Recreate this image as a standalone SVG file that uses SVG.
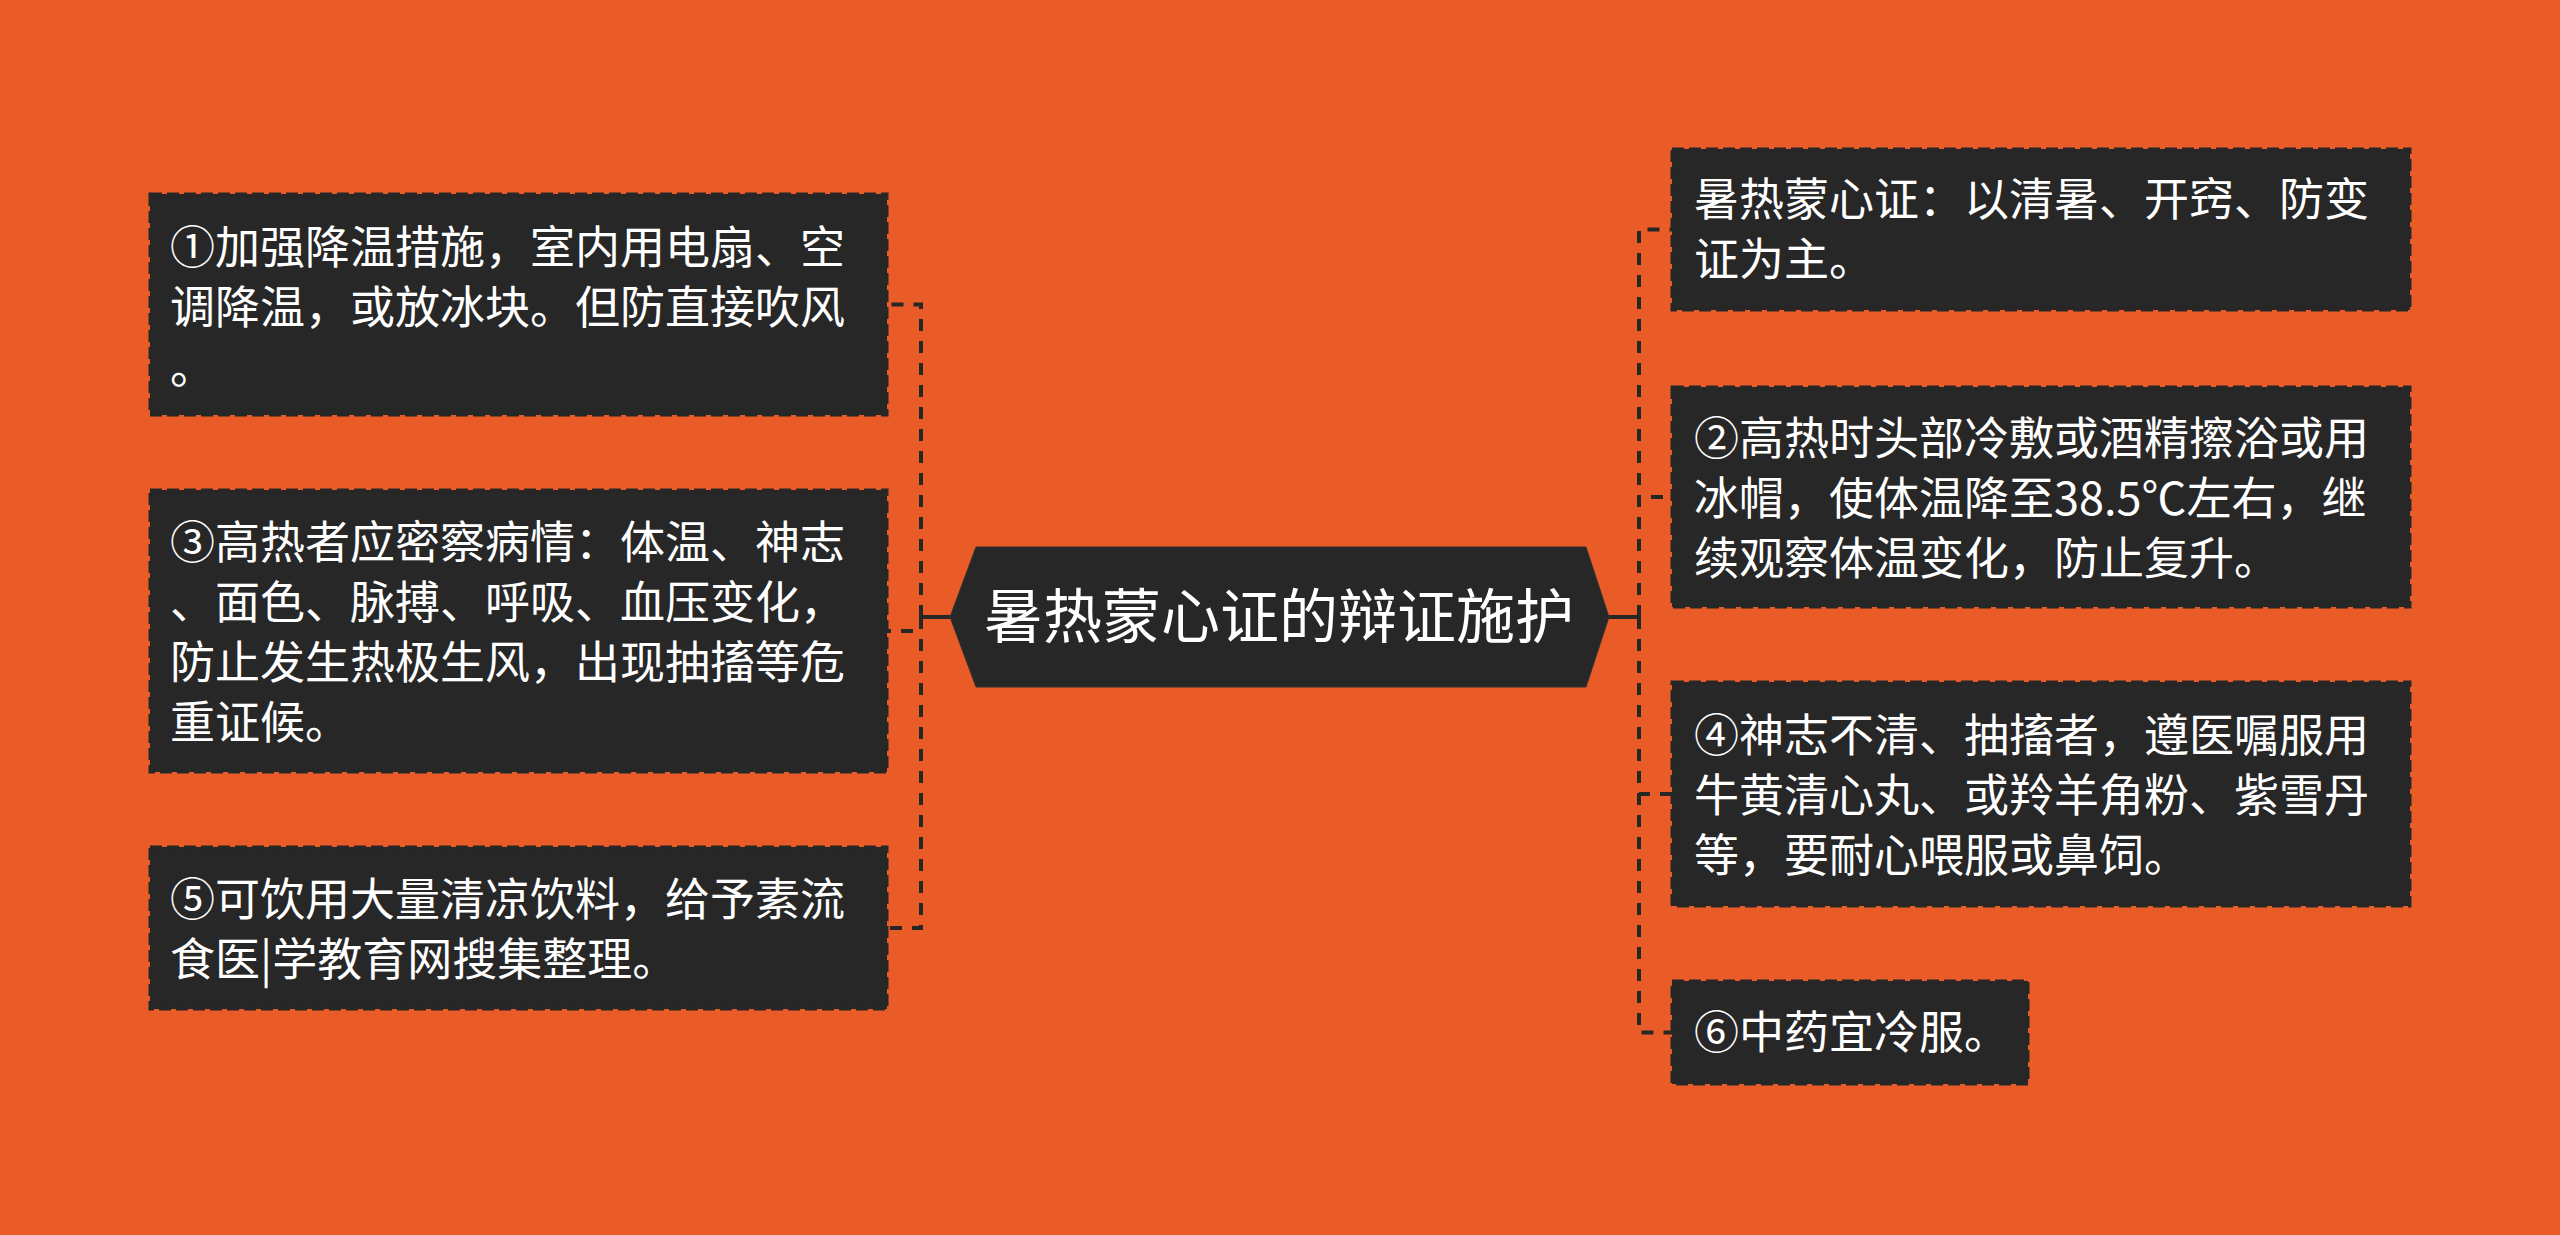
<svg xmlns="http://www.w3.org/2000/svg" width="2560" height="1235" viewBox="0 0 2560 1235">
<style>
.bg{fill:#E95C28}
.box{fill:#272727;stroke:#272727;stroke-width:3;stroke-dasharray:12 5}
.hex{fill:#272727;stroke:#333;stroke-width:1}
.t{font-family:"Noto Sans CJK SC","Noto Sans",sans-serif;font-size:45px;fill:#FFFFFF}
.ct{font-family:"Noto Sans CJK SC","Noto Sans",sans-serif;font-size:59px;fill:#FFFFFF}
.dash{fill:none;stroke:#272727;stroke-width:4;stroke-dasharray:12 10}
.solid{fill:none;stroke:#272727;stroke-width:4}
</style>
<rect class="bg" x="0" y="0" width="2560" height="1235"/>
<g id="connectors">
<line class="solid" x1="950" y1="617" x2="921" y2="617"/>
<path class="dash" d="M921 617 V304.5 H887"/>
<path class="dash" d="M921 617 V631 H887"/>
<path class="dash" d="M921 617 V928 H887"/>
<line class="solid" x1="1609" y1="617" x2="1639" y2="617"/>
<path class="dash" d="M1639 617 V229.5 H1672"/>
<path class="dash" d="M1639 617 V497 H1672"/>
<path class="dash" d="M1639 617 V794 H1672"/>
<path class="dash" d="M1639 617 V1032.5 H1672"/>
</g>
<g id="center">
<polygon class="hex" points="950,617 976,547 1586,547 1609,617 1586,687 976,687"/>
<text class="ct" x="1279" y="638" text-anchor="middle">暑热蒙心证的辩证施护</text>
</g>
<g id="n1">
<rect class="box" x="150" y="194" width="737" height="221"/>
<text class="t"><tspan x="170" y="264">①加强降温措施，室内用电扇、空</tspan><tspan x="170" y="324">调降温，或放冰块。但防直接吹风</tspan><tspan x="170" y="384">。</tspan></text>
</g>
<g id="n3">
<rect class="box" x="150" y="490" width="737" height="282"/>
<text class="t"><tspan x="170" y="559">③高热者应密察病情：体温、神志</tspan><tspan x="170" y="619">、面色、脉搏、呼吸、血压变化，</tspan><tspan x="170" y="679">防止发生热极生风，出现抽搐等危</tspan><tspan x="170" y="739">重证候。</tspan></text>
</g>
<g id="n5">
<rect class="box" x="150" y="847" width="737" height="162"/>
<text class="t"><tspan x="170" y="916">⑤可饮用大量清凉饮料，给予素流</tspan><tspan x="170" y="976">食医|学教育网搜集整理。</tspan></text>
</g>
<g id="r1">
<rect class="box" x="1672" y="149" width="738" height="161"/>
<text class="t"><tspan x="1694" y="216">暑热蒙心证：以清暑、开窍、防变</tspan><tspan x="1694" y="276">证为主。</tspan></text>
</g>
<g id="r2">
<rect class="box" x="1672" y="387" width="738" height="220"/>
<text class="t"><tspan x="1694" y="455">②高热时头部冷敷或酒精擦浴或用</tspan><tspan x="1694" y="515">冰帽，使体温降至38.5℃左右，继</tspan><tspan x="1694" y="575">续观察体温变化，防止复升。</tspan></text>
</g>
<g id="r4">
<rect class="box" x="1672" y="682" width="738" height="224"/>
<text class="t"><tspan x="1694" y="752">④神志不清、抽搐者，遵医嘱服用</tspan><tspan x="1694" y="812">牛黄清心丸、或羚羊角粉、紫雪丹</tspan><tspan x="1694" y="872">等，要耐心喂服或鼻饲。</tspan></text>
</g>
<g id="r6">
<rect class="box" x="1672" y="981" width="356" height="103"/>
<text class="t" x="1694" y="1049">⑥中药宜冷服。</text>
</g>
</svg>
